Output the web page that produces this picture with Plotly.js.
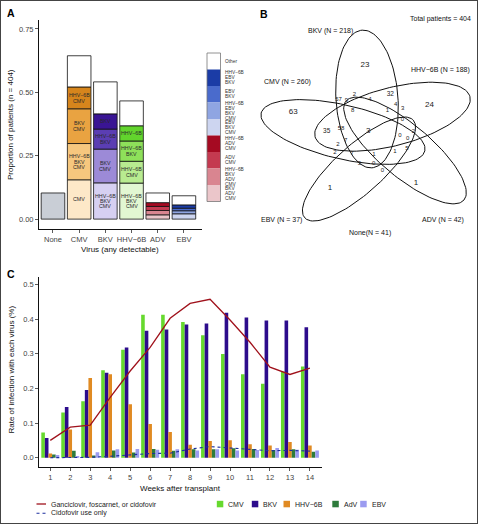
<!DOCTYPE html>
<html><head><meta charset="utf-8">
<script src="https://cdn.plot.ly/plotly-3.0.1.min.js"></script>
<style>html,body{margin:0;padding:0;background:#fff;}#chart{width:478px;height:524px;}</style>
</head><body><div id="chart"></div>
<script>
// ---------------- Panel A data ----------------
const categoriesA = ['None','CMV','BKV','HHV−6B','ADV','EBV'];
const noneSegs = [0.103];
const cmvSegs  = [0.155, 0.143, 0.137, 0.086, 0.123];
const bkvSegs  = [0.143, 0.133, 0.079, 0.060, 0.126];
const hhvSegs  = [0.142, 0.086, 0.080, 0.060, 0.098];
const advSegs  = [0.017, 0.017, 0.016, 0.015, 0.038];
const ebvSegs  = [0.021, 0.012, 0.010, 0.013, 0.036];
const cmvSegLabels = ['CMV','HHV−6B|BKV|CMV','BKV|CMV','HHV−6B|CMV',''];
const bkvSegLabels = ['HHV−6B|BKV|CMV','BKV|CMV','HHV−6B|BKV','BKV',''];
const hhvSegLabels = ['HHV−6B|BKV|CMV','HHV−6B|CMV','HHV−6B|BKV','HHV−6B',''];
const legendLabelsA = ['Other','HHV−6B|EBV|BKV','EBV|BKV','HHV−6B|EBV|BKV|CMV','EBV|BKV|CMV','HHV−6B|ADV|CMV','ADV|CMV','HHV−6B|BKV|ADV|CMV','BKV|ADV|CMV'];

// ---------------- Panel B data ----------------
const vennSets = ['BKV','CMV','HHV−6B','EBV','ADV'];
const vennN = [218, 260, 188, 37, 42];
const noneN = 41;
const totalPatients = 404;
const vennCounts = [23,63,24,1,1,32,2,4,57,9,4,3,8,1,0,35,58,3,0,2,0,2,7,5,1,2,7,1,5,0,0];

// ---------------- Panel C data ----------------
const weeks = [1,2,3,4,5,6,7,8,9,10,11,12,13,14];
const cmvRate  = [0.073,0.130,0.163,0.252,0.311,0.412,0.412,0.391,0.353,0.299,0.241,0.213,0.248,0.263];
const bkvRate  = [0.057,0.146,0.195,0.245,0.318,0.366,0.370,0.384,0.387,0.418,0.404,0.396,0.396,0.376];
const hhvRate  = [0.012,0.081,0.230,0.241,0.154,0.097,0.074,0.037,0.048,0.050,0.039,0.035,0.045,0.035];
const advRate  = [0.009,0.020,0.006,0.021,0.015,0.025,0.020,0.024,0.024,0.027,0.025,0.022,0.024,0.017];
const ebvRate  = [0.008,0.005,0.016,0.024,0.025,0.023,0.024,0.021,0.024,0.021,0.022,0.028,0.023,0.021];
const gfcRate  = [0.050,0.088,0.094,0.174,0.250,0.318,0.402,0.445,0.457,0.397,0.333,0.261,0.240,0.258];
const cidoRate = [0.000,0.000,0.001,0.004,0.008,0.012,0.013,0.025,0.032,0.028,0.023,0.020,0.021,0.019];
const seriesNamesC = ['CMV','BKV','HHV−6B','AdV','EBV'];
const lineNamesC = ['Ganciclovir, foscarnet, or cidofovir','Cidofovir use only'];

// ---------------- styles / layout helpers ----------------
const W = 478, H = 524;
const px = v => v / W, py = v => 1 - v / H;
const FONT = 'Liberation Sans, Arial, sans-serif';
const colorsA = [
  ['#c9ced6'],
  ['#fde8c8','#f6c77e','#e9a341','#d6851c','#ffffff'],
  ['#d6d0f2','#9c8ad7','#5b3eb3','#3a1594','#ffffff'],
  ['#e2f7d2','#b8eb90','#8ee05a','#62d42d','#ffffff'],
  ['#ebc6ca','#d98590','#c43a50','#a50a22','#ffffff'],
  ['#cdd5f0','#8fa5e2','#4a6bcc','#1b3ca6','#ffffff']
];
const legendColorsA = ['#ffffff','#1b3ca6','#4a6bcc','#8fa5e2','#cdd5f0','#a50a22','#c43a50','#d98590','#ebc6ca'];
const colorsC = ['#66d92e','#2d0c8c','#e08a22','#2e7b3c','#9b9bf0'];
const vennCx = [367,343,392.5,359,405], vennCy = [99,132,116.7,169,150.5];
const vennA = [69,84,80,73,77], vennB = [31,27,29,24,26], vennAng = [86,13,-14.5,-42,40];
const vennLabelPos = [[330,31],[287,82],[440,69.5],[281,220],[443,219.5]];
const vennCountX = [365,293.3,429.5,330,416,390.3,354.3,370,338.5,346.5,395.7,402.7,352.7,387.5,402.5,326.7,341,368.3,400,413.3,407.7,338,345.7,407,395,335,352,374,359.5,373.7,382.3];
const vennCountY = [65,112.3,104.5,188.3,182.5,94,94.3,99.5,99.5,100.5,104.3,108.3,110,110.3,119.5,131,128.7,130.5,135,131.3,138.3,144,140.7,148,151.5,152.7,153.3,154.7,163.7,163.5,170.5];
const vennCountSize = [8,8,8,8,8,6.5,6,6,6,6,6,6,6,6,6,6.5,6,8,6,6,6,6,6,6,6,6,6,6,6,6,6];

const traces = [];
const annotations = [];
const shapes = [];
function ann(o) {
  annotations.push(Object.assign({showarrow:false, xanchor:'center', yanchor:'middle'}, o));
}
// stacked text lines with tight spacing (pixel shift)
function lines(o, label, spacing) {
  const parts = label.split('|');
  const mid = (parts.length - 1) / 2;
  parts.forEach((t, i) => ann(Object.assign({}, o, {text: t, yshift: (mid - i) * spacing})));
}

// ---------- Panel A bars ----------
const segsByCat = [noneSegs, cmvSegs, bkvSegs, hhvSegs, advSegs, ebvSegs];
const labelsByCat = [null, cmvSegLabels, bkvSegLabels, hhvSegLabels, null, null];
for (let k = 0; k < 5; k++) {
  const xs = [], ys = [], bases = [], cols = [];
  segsByCat.forEach((segs, c) => {
    if (k < segs.length) {
      const base = segs.slice(0, k).reduce((s, v) => s + v, 0);
      xs.push(categoriesA[c]); ys.push(segs[k]); bases.push(base); cols.push(colorsA[c][k]);
      const lab = labelsByCat[c];
      if (lab && lab[k]) {
        lines({xref:'x', yref:'y', x: categoriesA[c], y: base + segs[k] / 2,
          font:{family:FONT, size:5.3, color:'#2a2a2a'}}, lab[k], 5.4);
      }
    }
  });
  traces.push({type:'bar', x: xs, y: ys, base: bases, width: 0.9, xaxis:'x', yaxis:'y',
    marker:{color: cols, line:{color:'#111', width:0.8}}, showlegend:false, hoverinfo:'skip'});
}
// Panel A legend (colour key)
const legTop = 53, legH = 16.5;
legendColorsA.forEach((col, i) => {
  shapes.push({type:'rect', xref:'paper', yref:'paper', x0: px(207), x1: px(220.5),
    y0: py(legTop + (i + 1) * legH), y1: py(legTop + i * legH), fillcolor: col, line:{width:0}});
  lines({xref:'paper', yref:'paper', x: px(222.5), y: py(legTop + i * legH + legH / 2), xanchor:'left',
    font:{family:FONT, size:4.8, color:'#333'}}, legendLabelsA[i], 5.0);
});
shapes.push({type:'rect', xref:'paper', yref:'paper', x0: px(207), x1: px(220.5),
  y0: py(legTop + 9 * legH), y1: py(legTop), line:{color:'#777', width:0.8}});

// ---------- Panel B Venn ----------
vennSets.forEach((s, i) => {
  const xs = [], ys = [];
  const th = vennAng[i] * Math.PI / 180;
  for (let d = 0; d <= 360; d += 3) {
    const t = d * Math.PI / 180;
    const ex = vennA[i] * Math.cos(t), ey = vennB[i] * Math.sin(t);
    xs.push(vennCx[i] + ex * Math.cos(th) - ey * Math.sin(th));
    ys.push(vennCy[i] + ex * Math.sin(th) + ey * Math.cos(th));
  }
  traces.push({type:'scatter', mode:'lines', x: xs, y: ys, xaxis:'x2', yaxis:'y2',
    line:{color:'#111', width:1}, showlegend:false, hoverinfo:'skip'});
  ann({xref:'x2', yref:'y2', x: vennLabelPos[i][0], y: vennLabelPos[i][1],
    text: `${s} (N = ${vennN[i]})`, font:{family:FONT, size:7, color:'#111'}});
});
traces.push({type:'scatter', mode:'text', x: vennCountX, y: vennCountY, text: vennCounts.map(String),
  xaxis:'x2', yaxis:'y2', textfont:{family:FONT, size: vennCountSize, color:'#222'},
  cliponaxis:false, showlegend:false, hoverinfo:'skip'});
ann({xref:'x2', yref:'y2', x: 370, y: 232.5, text: `None(N = ${noneN})`, font:{family:FONT, size:7, color:'#111'}});
ann({xref:'x2', yref:'y2', x: 473, y: 19, xanchor:'right', text: `Total patients = ${totalPatients}`,
  font:{family:FONT, size:7, color:'#111'}});

// ---------- Panel C ----------
const ratesC = [cmvRate, bkvRate, hhvRate, advRate, ebvRate];
ratesC.forEach((r, i) => {
  traces.push({type:'bar', x: weeks, y: r, base: 0, width: 0.18, offset: -0.45 + i * 0.18,
    xaxis:'x3', yaxis:'y3', name: seriesNamesC[i], marker:{color: colorsC[i], line:{width:0}},
    showlegend:false, hoverinfo:'skip'});
});
traces.push({type:'scatter', mode:'lines', x: weeks, y: gfcRate, xaxis:'x3', yaxis:'y3', name: lineNamesC[0],
  line:{color:'#a0121c', width:1.3}, showlegend:false, hoverinfo:'skip'});
traces.push({type:'scatter', mode:'lines', x: weeks, y: cidoRate, xaxis:'x3', yaxis:'y3', name: lineNamesC[1],
  line:{color:'#1c2f9e', width:1.1, dash:'dot'}, showlegend:false, hoverinfo:'skip'});
// legend C (lines)
shapes.push({type:'line', xref:'paper', yref:'paper', x0:px(36.5), x1:px(46), y0:py(504), y1:py(504), line:{color:'#a0121c', width:1.3}});
shapes.push({type:'line', xref:'paper', yref:'paper', x0:px(36.5), x1:px(46), y0:py(513.3), y1:py(513.3), line:{color:'#1c2f9e', width:1.1, dash:'dot'}});
ann({xref:'paper', yref:'paper', x:px(49), y:py(504), xanchor:'left', text: lineNamesC[0], font:{family:FONT, size:7, color:'#222'}});
ann({xref:'paper', yref:'paper', x:px(49), y:py(513.3), xanchor:'left', text: lineNamesC[1], font:{family:FONT, size:7, color:'#222'}});
// legend C (bars)
const legSqX = [216.8, 251.8, 283.5, 332.3, 360.2];
seriesNamesC.forEach((n, i) => {
  shapes.push({type:'rect', xref:'paper', yref:'paper', x0:px(legSqX[i]), x1:px(legSqX[i] + 6.5),
    y0:py(507.3), y1:py(500.8), fillcolor: colorsC[i], line:{width:0}});
  ann({xref:'paper', yref:'paper', x:px(legSqX[i] + 9.5), y:py(504), xanchor:'left',
    text: n, font:{family:FONT, size:7, color:'#222'}});
});

// ---------- titles / panel letters ----------
const titleFont = {family:FONT, size:8, color:'#111'};
ann({xref:'paper', yref:'paper', x:px(10.5), y:py(124.5), text:'Proportion of patients (n = 404)', textangle:-90, font:titleFont});
ann({xref:'paper', yref:'paper', x:px(119.5), y:py(249.5), text:'Virus (any detectable)', font:titleFont});
ann({xref:'paper', yref:'paper', x:px(10.5), y:py(370), text:'Rate of infection with each virus (%)', textangle:-90, font:titleFont});
ann({xref:'paper', yref:'paper', x:px(180), y:py(488.5), text:'Weeks after transplant', font:titleFont});
[['A',10.5,13.5],['B',263.5,14],['C',11,273.5]].forEach(([t,x,y]) => {
  ann({xref:'paper', yref:'paper', x:px(x), y:py(y), text:'<b>'+t+'</b>', font:{family:FONT, size:10.5, color:'#000'}});
});
// outer frame
shapes.push({type:'rect', xref:'paper', yref:'paper', x0:0, x1:1, y0:0, y1:1, line:{color:'#444', width:2}});

const axCommon = {showline:true, linecolor:'#111', linewidth:1, ticks:'outside', ticklen:3, tickwidth:0.8,
  tickcolor:'#333', showgrid:false, zeroline:false, fixedrange:true,
  tickfont:{family:FONT, size:7.5, color:'#444'}};

const layout = {
  width: W, height: H, margin:{l:0, r:0, t:0, b:0}, paper_bgcolor:'#fff', plot_bgcolor:'rgba(0,0,0,0)',
  barmode:'overlay', showlegend:false, font:{family:FONT},
  xaxis: Object.assign({}, axCommon, {domain:[px(39), px(202)], type:'category', range:[-0.534, 5.69], anchor:'y'}),
  yaxis: Object.assign({}, axCommon, {domain:[py(229), py(20)], range:[-0.039, 0.785], tickvals:[0,0.25,0.5,0.75], tickformat:'.2f', anchor:'x'}),
  xaxis2: {domain:[px(250), 1], range:[250, 478], visible:false, fixedrange:true, anchor:'y2'},
  yaxis2: {domain:[py(260), 1], range:[260, 0], visible:false, fixedrange:true, anchor:'x2'},
  xaxis3: Object.assign({}, axCommon, {domain:[px(39.3), px(321.7)], range:[0.45, 14.59], tickvals: weeks, anchor:'y3'}),
  yaxis3: Object.assign({}, axCommon, {domain:[py(466.7), py(276.7)], range:[-0.026, 0.522], tickvals:[0,0.1,0.2,0.3,0.4,0.5], tickformat:'.1f', anchor:'x3'}),
  annotations, shapes
};
Plotly.newPlot('chart', traces, layout, {staticPlot:true, displayModeBar:false});
</script></body></html>
